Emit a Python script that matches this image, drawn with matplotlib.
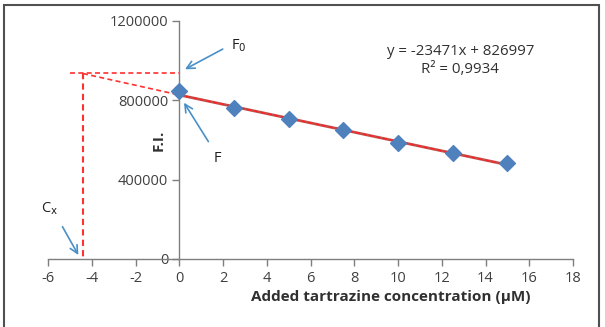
import matplotlib
matplotlib.use("Agg")
import matplotlib.pyplot as plt
from matplotlib.patches import Rectangle
import numpy as np

plt.rcParams['font.family'] = ['Open Sans', 'DejaVu Sans']
plt.rcParams['axes.unicode_minus'] = False

# Data
conc = [0, 2.5, 5, 7.5, 10, 12.5, 15]
fi = [845000, 762000, 705000, 648000, 585000, 532000, 483000]
slope = -23471
intercept = 826997
eq_text = "y = -23471x + 826997"
r2_text = "R² = 0,9934"
x_ticks = [-6, -4, -2, 0, 2, 4, 6, 8, 10, 12, 14, 16, 18]
y_ticks = [0, 400000, 800000, 1200000]
cx = -4.4
f0_level = 940000
extrap_start = -5.0

fig = plt.figure(figsize=(6.05, 3.27), dpi=100)
ax = fig.add_axes([48/605, 1 - 259/327, (573-48)/605, (259-21)/327])

ax.set_xlim(-6, 18)
ax.set_ylim(0, 1200000)

for s in ['top', 'right']:
    ax.spines[s].set_visible(False)
ax.spines['left'].set_position(('data', 0))
for s in ['left', 'bottom']:
    ax.spines[s].set_color('#7f7f7f')
    ax.spines[s].set_linewidth(1.0)

ax.set_xticks(x_ticks)
ax.set_xticklabels([str(v) for v in x_ticks])
ax.set_yticks(y_ticks)
ax.set_yticklabels([str(v) for v in y_ticks])
ax.tick_params(axis='both', colors='#7f7f7f', labelcolor='#404040', labelsize=10.5,
               length=5, width=1.0, direction='out')
ax.tick_params(axis='x', pad=4)
ax.tick_params(axis='y', pad=3)

# trendline
xl = np.array([0, 15])
ax.plot(xl, slope * xl + intercept, color='#c0504d', lw=2.0, zorder=2)
ax.plot(xl, slope * xl + intercept, color='#ff2020', lw=1.0, ls=(0, (3, 2)), zorder=3)

# extrapolation dashed lines
ax.plot([cx, 0], [f0_level - 5000, intercept], color='#ff3030', lw=1.2, ls=(0, (3, 2)), zorder=3)
ax.plot([extrap_start, 0], [f0_level, f0_level], color='#ff3030', lw=1.2, ls=(0, (3, 2)), zorder=3)
ax.plot([cx, cx], [f0_level, 0], color='#ff3030', lw=1.5, ls=(0, (3, 2)), zorder=3)

# data points
ax.scatter(conc, fi, marker='D', s=65, color='#4f81bd', edgecolor='#4f81bd', zorder=4)

# annotations
arrow_kw = dict(arrowstyle='->', color='#4a90c8', lw=1.2, mutation_scale=14)
ax.annotate('', xy=(0.15, f0_level + 10000), xytext=(2.1, 1065000),
            arrowprops=arrow_kw)
ax.text(2.35, 1075000, r'F$_\mathrm{0}$', fontsize=10.5, color='#202020', va='center')
ax.annotate('', xy=(0.15, 800000), xytext=(1.4, 580000), arrowprops=arrow_kw)
ax.text(1.55, 505000, 'F', fontsize=10.5, color='#202020', va='center')
ax.annotate('', xy=(cx - 0.15, 8000), xytext=(-5.4, 175000), arrowprops=arrow_kw)
ax.text(-6.3, 255000, r'C$_\mathrm{x}$', fontsize=10.5, color='#202020', va='center')

ax.text(12.85, 1045000, eq_text, fontsize=10.8, color='#303030', ha='center', va='center')
ax.text(12.85, 955000, r2_text, fontsize=10.8, color='#303030', ha='center', va='center')

ax.set_xlabel('Added tartrazine concentration (µM)', fontsize=11, fontweight='bold',
              color='#303030')
ax.xaxis.set_label_coords(0.652, -0.13)
ax.text(-0.95, 600000, 'F.I.', rotation=90, fontsize=11, fontweight='bold',
        color='#303030', ha='center', va='center')

# frame
fig.patches.append(Rectangle((4/605, -0.01), (599-4)/605, 1 - 5/327 + 0.01,
                             transform=fig.transFigure, fill=False,
                             edgecolor='#505050', lw=1.5, zorder=0))

fig.savefig('out.png', dpi=100)
